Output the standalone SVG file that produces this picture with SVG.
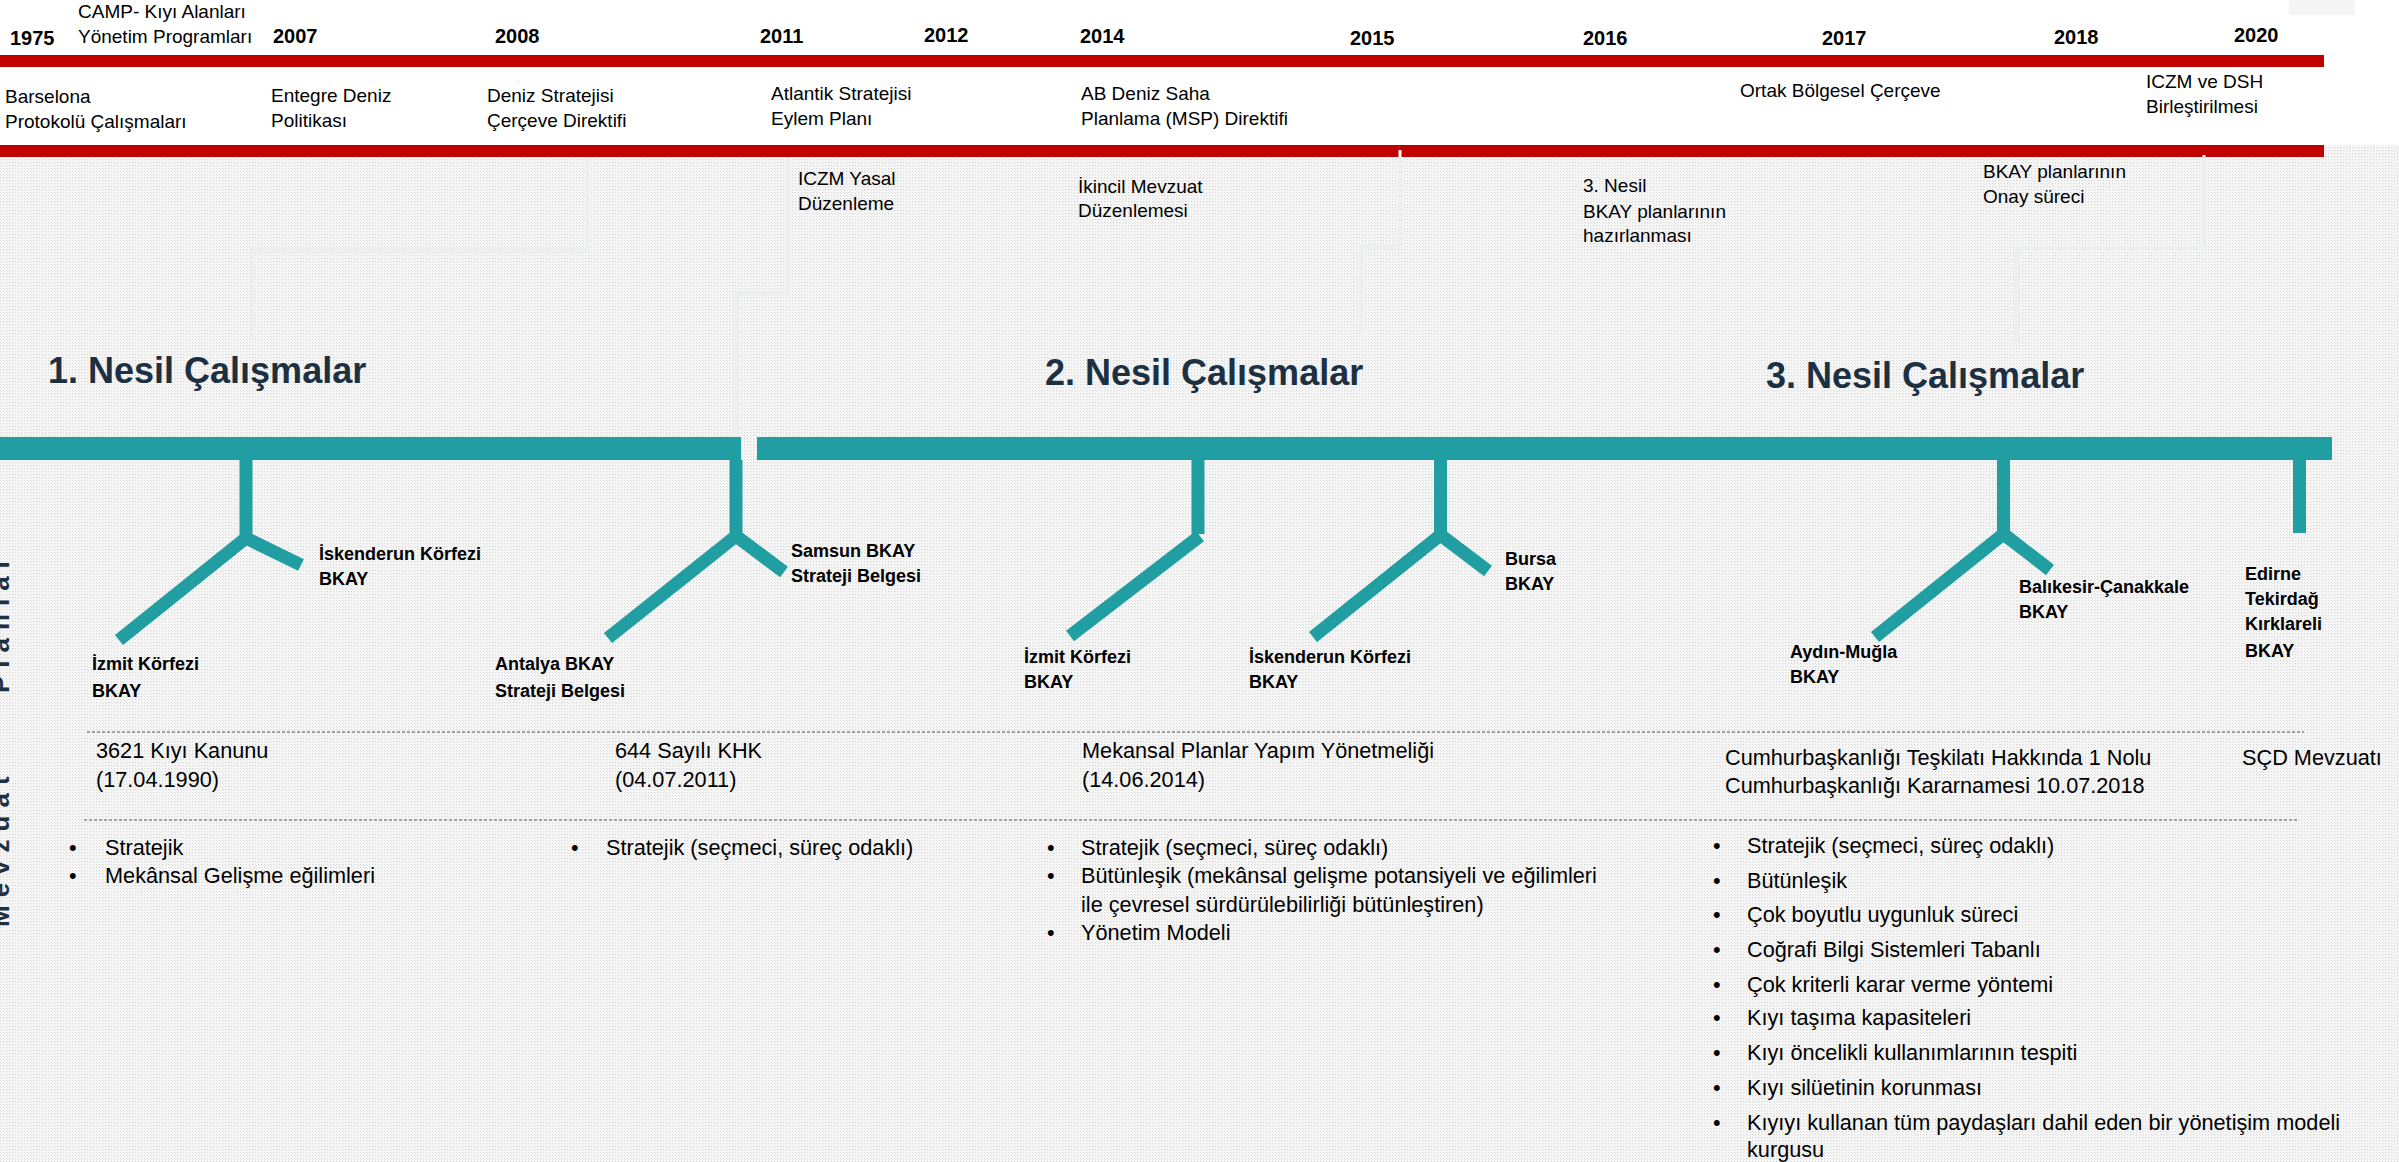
<svg xmlns="http://www.w3.org/2000/svg" width="2399" height="1162" viewBox="0 0 2399 1162">
<defs>
<pattern id="dots" width="3" height="3" patternUnits="userSpaceOnUse">
<rect width="3" height="3" fill="#f7f7f7"/>
<rect width="1" height="1" fill="#d4d4d4"/>
<rect x="1" y="1" width="1" height="1" fill="#e6e6e6"/>
</pattern>
<style>
text{font-family:"Liberation Sans",Arial,sans-serif;fill:#000}
.yr{font-size:20px;font-weight:bold}
.top{font-size:19px}
.hdr{font-size:36px;font-weight:bold;fill:#1d3042}
.lbl{font-size:18px;font-weight:bold}
.body{font-size:21.7px}
.side{font-size:26px;font-weight:bold;fill:#1d3042;letter-spacing:8px}
.red{fill:#c00000}
.teal{fill:#219ea1}
.br{stroke:#219ea1;stroke-width:13;fill:none;stroke-linecap:butt}
.con{stroke:#eceef0;stroke-width:4.5;fill:none}
.dash{stroke:#555;stroke-width:1;stroke-dasharray:3 2;fill:none}
</style>
</defs>
<rect width="2399" height="1162" fill="#ffffff"/>
<rect y="145" width="2399" height="1017" fill="url(#dots)"/>
<rect x="2289" y="0" width="66" height="15" fill="#f5f5f5"/>

<g id="connectors">
<polyline class="con" points="587,157 587,250 252,250 252,340"/>
<polyline class="con" points="788,157 788,294 736,294 736,460"/>
<polyline class="con" points="1400,150 1400,247 1361,247 1361,333"/>
<polyline class="con" points="2204,155 2204,248 2017,248 2017,345"/>
</g>

<g id="timeline-bars">
<rect class="red" x="0" y="55" width="2324" height="12"/>
<rect class="red" x="0" y="145" width="2324" height="12"/>
<line x1="1400" y1="150" x2="1400" y2="157" stroke="#ffffff" stroke-width="3"/>
<line x1="2204" y1="155" x2="2204" y2="157" stroke="#ffffff" stroke-width="3"/>
</g>

<g id="years">
<text class="yr" x="10" y="45">1975</text>
<text class="yr" x="273" y="43">2007</text>
<text class="yr" x="495" y="43">2008</text>
<text class="yr" x="760" y="43">2011</text>
<text class="yr" x="924" y="42">2012</text>
<text class="yr" x="1080" y="43">2014</text>
<text class="yr" x="1350" y="45">2015</text>
<text class="yr" x="1583" y="45">2016</text>
<text class="yr" x="1822" y="45">2017</text>
<text class="yr" x="2054" y="44">2018</text>
<text class="yr" x="2234" y="42">2020</text>
</g>

<g id="node-camp"><text class="top" x="78" y="18">CAMP- Kıyı Alanları</text><text class="top" x="78" y="43">Yönetim Programları</text></g>
<g id="node-barselona"><text class="top" x="5" y="103">Barselona</text><text class="top" x="5" y="128">Protokolü Çalışmaları</text></g>
<g id="node-entegre"><text class="top" x="271" y="102">Entegre Deniz</text><text class="top" x="271" y="127">Politikası</text></g>
<g id="node-deniz"><text class="top" x="487" y="102">Deniz Stratejisi</text><text class="top" x="487" y="127">Çerçeve Direktifi</text></g>
<g id="node-atlantik"><text class="top" x="771" y="100">Atlantik Stratejisi</text><text class="top" x="771" y="125">Eylem Planı</text></g>
<g id="node-msp"><text class="top" x="1081" y="100">AB Deniz Saha</text><text class="top" x="1081" y="125">Planlama (MSP) Direktifi</text></g>
<g id="node-ortak"><text class="top" x="1740" y="97">Ortak Bölgesel Çerçeve</text></g>
<g id="node-iczm-dsh"><text class="top" x="2146" y="88">ICZM ve DSH</text><text class="top" x="2146" y="113">Birleştirilmesi</text></g>

<g id="node-iczm-yasal"><text class="top" x="798" y="185">ICZM Yasal</text><text class="top" x="798" y="210">Düzenleme</text></g>
<g id="node-ikincil"><text class="top" x="1078" y="193">İkincil Mevzuat</text><text class="top" x="1078" y="217">Düzenlemesi</text></g>
<g id="node-3nesil-haz"><text class="top" x="1583" y="192">3. Nesil</text><text class="top" x="1583" y="218">BKAY planlarının</text><text class="top" x="1583" y="242">hazırlanması</text></g>
<g id="node-onay"><text class="top" x="1983" y="178">BKAY planlarının</text><text class="top" x="1983" y="203">Onay süreci</text></g>

<g id="side-labels">
<text class="side" transform="translate(9,693) rotate(-90)">Planlar</text>
<text class="side" transform="translate(9,927) rotate(-90)">Mevzuat</text>
</g>

<g id="headers">
<text class="hdr" x="48" y="383">1. Nesil Çalışmalar</text>
<text class="hdr" x="1045" y="385">2. Nesil Çalışmalar</text>
<text class="hdr" x="1766" y="388">3. Nesil Çalışmalar</text>
</g>

<g id="generation-bars">
<rect class="teal" x="0" y="437" width="741" height="23"/>
<rect class="teal" x="757" y="437" width="1575" height="23"/>
</g>

<g id="node-g1a">
<path class="br" d="M246,460 V538 M246,538 L119,640 M246,538 L301,565"/>
<text class="lbl" x="319" y="560">İskenderun Körfezi</text><text class="lbl" x="319" y="585">BKAY</text>
<text class="lbl" x="92" y="670">İzmit Körfezi</text><text class="lbl" x="92" y="697">BKAY</text>
</g>
<g id="node-g1b">
<path class="br" d="M736,460 V536 M736,536 L608,638 M736,536 L784,572"/>
<text class="lbl" x="791" y="557">Samsun BKAY</text><text class="lbl" x="791" y="582">Strateji Belgesi</text>
<text class="lbl" x="495" y="670">Antalya BKAY</text><text class="lbl" x="495" y="697">Strateji Belgesi</text>
</g>
<g id="node-g2a">
<path class="br" d="M1198,460 V534 M1200,536 L1070,636"/>
<text class="lbl" x="1024" y="663">İzmit Körfezi</text><text class="lbl" x="1024" y="688">BKAY</text>
</g>
<g id="node-g2b">
<path class="br" d="M1440.5,460 V535 M1440.5,535 L1313,637 M1440.5,535 L1488,571"/>
<text class="lbl" x="1249" y="663">İskenderun Körfezi</text><text class="lbl" x="1249" y="688">BKAY</text>
<text class="lbl" x="1505" y="565">Bursa</text><text class="lbl" x="1505" y="590">BKAY</text>
</g>
<g id="node-g3a">
<path class="br" d="M2003.5,460 V534 M2003.5,534 L1875,637 M2003.5,534 L2050,570"/>
<text class="lbl" x="2019" y="593">Balıkesir-Çanakkale</text><text class="lbl" x="2019" y="618">BKAY</text>
<text class="lbl" x="1790" y="658">Aydın-Muğla</text><text class="lbl" x="1790" y="683">BKAY</text>
</g>
<g id="node-g3b">
<path class="br" d="M2299.5,460 V533"/>
<text class="lbl" x="2245" y="580">Edirne</text><text class="lbl" x="2245" y="605">Tekirdağ</text><text class="lbl" x="2245" y="630">Kırklareli</text><text class="lbl" x="2245" y="657">BKAY</text>
</g>

<g id="separators">
<line class="dash" x1="87" y1="732" x2="2304" y2="732"/>
<line class="dash" x1="84" y1="820" x2="2299" y2="820"/>
</g>

<g id="node-law1"><text class="body" x="96" y="758">3621 Kıyı Kanunu</text><text class="body" x="96" y="787">(17.04.1990)</text></g>
<g id="node-law2"><text class="body" x="615" y="758">644 Sayılı KHK</text><text class="body" x="615" y="787">(04.07.2011)</text></g>
<g id="node-law3"><text class="body" x="1082" y="758">Mekansal Planlar Yapım Yönetmeliği</text><text class="body" x="1082" y="787">(14.06.2014)</text></g>
<g id="node-law4"><text class="body" x="1725" y="765">Cumhurbaşkanlığı Teşkilatı Hakkında 1 Nolu</text><text class="body" x="1725" y="793">Cumhurbaşkanlığı Kararnamesi 10.07.2018</text></g>
<g id="node-law5"><text class="body" x="2242" y="765">SÇD Mevzuatı</text></g>

<g id="node-props1">
<text class="body" x="69" y="855">•</text><text class="body" x="105" y="855">Stratejik</text>
<text class="body" x="69" y="883">•</text><text class="body" x="105" y="883">Mekânsal Gelişme eğilimleri</text>
</g>
<g id="node-props2">
<text class="body" x="571" y="855">•</text><text class="body" x="606" y="855">Stratejik (seçmeci, süreç odaklı)</text>
</g>
<g id="node-props3">
<text class="body" x="1047" y="855">•</text><text class="body" x="1081" y="855">Stratejik (seçmeci, süreç odaklı)</text>
<text class="body" x="1047" y="883">•</text><text class="body" x="1081" y="883">Bütünleşik (mekânsal gelişme potansiyeli ve eğilimleri</text>
<text class="body" x="1081" y="912">ile çevresel sürdürülebilirliği bütünleştiren)</text>
<text class="body" x="1047" y="940">•</text><text class="body" x="1081" y="940">Yönetim Modeli</text>
</g>
<g id="node-props4">
<text class="body" x="1713" y="853">•</text><text class="body" x="1747" y="853">Stratejik (seçmeci, süreç odaklı)</text>
<text class="body" x="1713" y="888">•</text><text class="body" x="1747" y="888">Bütünleşik</text>
<text class="body" x="1713" y="922">•</text><text class="body" x="1747" y="922">Çok boyutlu uygunluk süreci</text>
<text class="body" x="1713" y="957">•</text><text class="body" x="1747" y="957">Coğrafi Bilgi Sistemleri Tabanlı</text>
<text class="body" x="1713" y="992">•</text><text class="body" x="1747" y="992">Çok kriterli karar verme yöntemi</text>
<text class="body" x="1713" y="1025">•</text><text class="body" x="1747" y="1025">Kıyı taşıma kapasiteleri</text>
<text class="body" x="1713" y="1060">•</text><text class="body" x="1747" y="1060">Kıyı öncelikli kullanımlarının tespiti</text>
<text class="body" x="1713" y="1095">•</text><text class="body" x="1747" y="1095">Kıyı silüetinin korunması</text>
<text class="body" x="1713" y="1130">•</text><text class="body" x="1747" y="1130">Kıyıyı kullanan tüm paydaşları dahil eden bir yönetişim modeli</text>
<text class="body" x="1747" y="1157">kurgusu</text>
</g>
</svg>
